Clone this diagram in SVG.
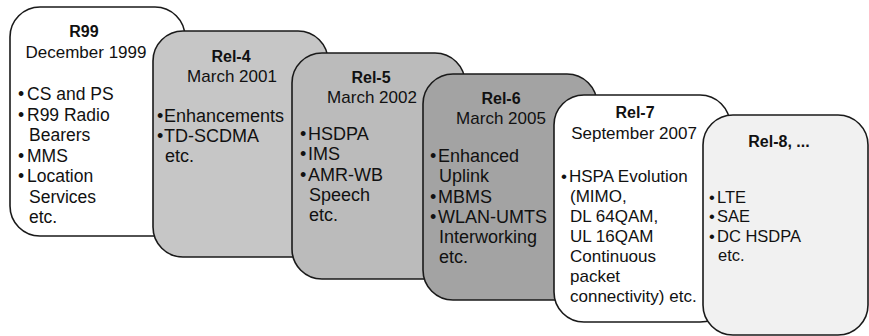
<svg xmlns="http://www.w3.org/2000/svg" width="869" height="336" viewBox="0 0 869 336">
  <style>
    .card { stroke: #1a1a1a; stroke-width: 1.6; }
    text { font-family: "Liberation Sans", Arial, sans-serif; font-size: 17px; fill: #111; }
    .ttl { font-weight: bold; font-size: 16px; text-anchor: middle; }
    .sub { text-anchor: middle; }
    .lg text { font-size: 17.5px; }
    .xl text { font-size: 18px; }
    .sm text { font-size: 16.5px; }
    .lg .ttl, .xl .ttl, .sm .ttl { font-size: 16px; }
    .lg .sub, .xl .sub { font-size: 17px; }
  </style>
  <rect width="869" height="336" fill="#ffffff"/>

  <!-- R99 -->
  <g id="r99" class="lg">
    <rect class="card" x="10" y="7" width="175" height="229" rx="30" ry="30" fill="#ffffff"/>
    <text class="ttl" x="84" y="37">R99</text>
    <text class="sub" x="86" y="58">December 1999</text>
    <text x="18" y="100">•</text><text x="27" y="100">CS and PS</text>
    <text x="18" y="121">•</text><text x="27" y="121">R99 Radio</text>
    <text x="29" y="141">Bearers</text>
    <text x="18" y="162">•</text><text x="27" y="162">MMS</text>
    <text x="18" y="182">•</text><text x="27" y="182">Location</text>
    <text x="29" y="203">Services</text>
    <text x="29" y="223">etc.</text>
  </g>

  <!-- Rel-4 -->
  <g id="rel4" class="xl">
    <rect class="card" x="153" y="31" width="175" height="226" rx="30" ry="30" fill="#c6c6c6"/>
    <text class="ttl" x="231" y="62">Rel-4</text>
    <text class="sub" x="232" y="82">March 2001</text>
    <text x="157" y="122">•</text><text x="164" y="122">Enhancements</text>
    <text x="157" y="142">•</text><text x="164" y="142">TD-SCDMA</text>
    <text x="165" y="162">etc.</text>
  </g>

  <!-- Rel-5 -->
  <g id="rel5" class="xl">
    <rect class="card" x="292" y="53" width="173" height="226" rx="30" ry="30" fill="#bbbbbb"/>
    <text class="ttl" x="371" y="83">Rel-5</text>
    <text class="sub" x="372" y="103">March 2002</text>
    <text x="300" y="140">•</text><text x="308" y="140">HSDPA</text>
    <text x="300" y="160">•</text><text x="308" y="160">IMS</text>
    <text x="300" y="181">•</text><text x="308" y="181">AMR-WB</text>
    <text x="309" y="201">Speech</text>
    <text x="309" y="221">etc.</text>
  </g>

  <!-- Rel-6 -->
  <g id="rel6" class="xl">
    <rect class="card" x="423" y="74" width="174" height="226" rx="30" ry="30" fill="#a3a3a3"/>
    <text class="ttl" x="501" y="104">Rel-6</text>
    <text class="sub" x="501" y="124">March 2005</text>
    <text x="430" y="162">•</text><text x="438" y="162">Enhanced</text>
    <text x="439" y="182">Uplink</text>
    <text x="430" y="203">•</text><text x="438" y="203">MBMS</text>
    <text x="430" y="223">•</text><text x="438" y="223">WLAN-UMTS</text>
    <text x="439" y="243">Interworking</text>
    <text x="439" y="263">etc.</text>
  </g>

  <!-- Rel-7 -->
  <g id="rel7">
    <rect class="card" x="554" y="95" width="176" height="227" rx="30" ry="30" fill="#ffffff"/>
    <text class="ttl" x="635" y="118">Rel-7</text>
    <text class="sub" x="634" y="139">September 2007</text>
    <text x="561" y="182">•</text><text x="569" y="182">HSPA Evolution</text>
    <text x="570" y="202">(MIMO,</text>
    <text x="570" y="222">DL 64QAM,</text>
    <text x="570" y="242">UL 16QAM</text>
    <text x="570" y="262">Continuous</text>
    <text x="570" y="282">packet</text>
    <text x="570" y="302">connectivity) etc.</text>
  </g>

  <!-- Rel-8 -->
  <g id="rel8" class="sm">
    <rect class="card" x="703" y="115" width="165" height="220" rx="30" ry="30" fill="#f1f1f1"/>
    <text class="ttl" x="779" y="147">Rel-8, ...</text>
    <text x="709" y="203">•</text><text x="717" y="203">LTE</text>
    <text x="709" y="222">•</text><text x="717" y="222">SAE</text>
    <text x="709" y="242">•</text><text x="717" y="242">DC HSDPA</text>
    <text x="718" y="261">etc.</text>
  </g>

  <g id="connectors"></g>
</svg>
